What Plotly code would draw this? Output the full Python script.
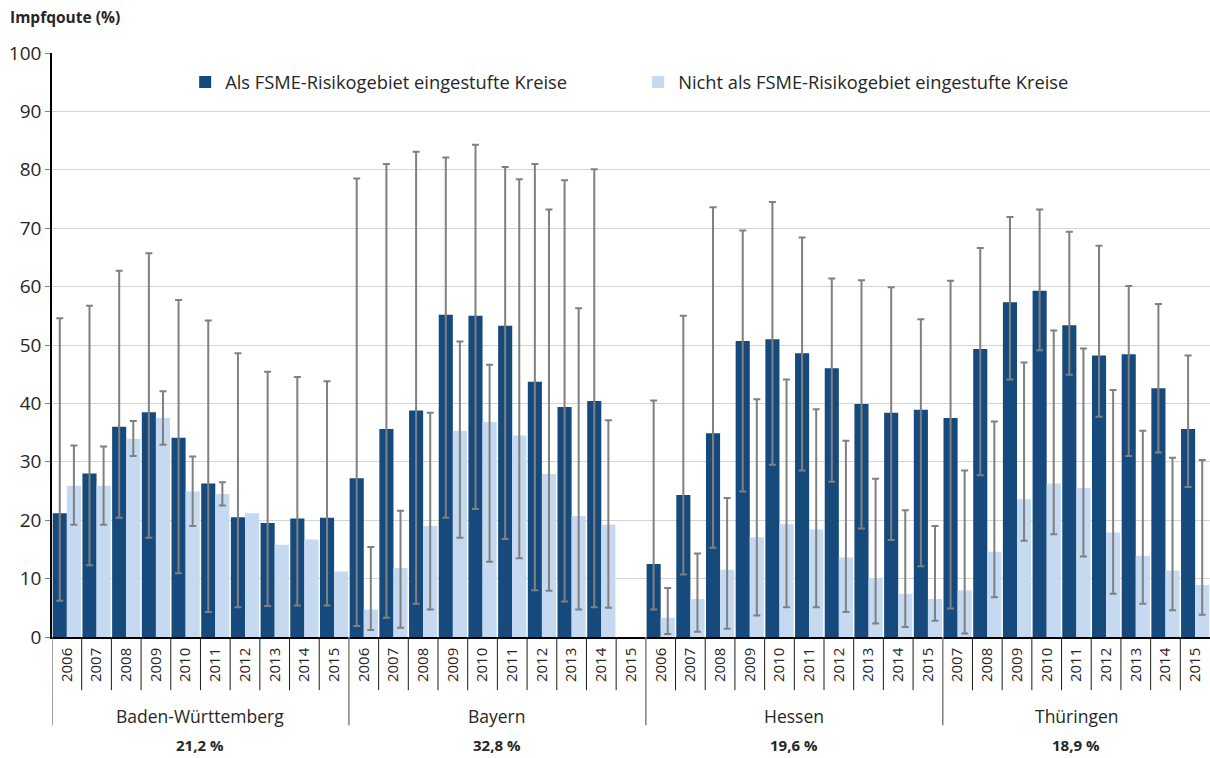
import numpy as np
import plotly.graph_objects as go

# ---------------- data ----------------
states = ["Baden-Württemberg", "Bayern", "Hessen", "Thüringen"]
state_rates = ["21,2 %", "32,8 %", "19,6 %", "18,9 %"]
state_years = [
    ["2006", "2007", "2008", "2009", "2010", "2011", "2012", "2013", "2014", "2015"],
    ["2006", "2007", "2008", "2009", "2010", "2011", "2012", "2013", "2014", "2015"],
    ["2006", "2007", "2008", "2009", "2010", "2011", "2012", "2013", "2014", "2015"],
    ["2007", "2008", "2009", "2010", "2011", "2012", "2013", "2014", "2015"],
]

# Als FSME-Risikogebiet eingestufte Kreise (value, lower and upper bound)
risk_value = [21.2, 28.0, 36.0, 38.5, 34.1, 26.3, 20.5, 19.5, 20.3, 20.4,
              27.2, 35.6, 38.8, 55.2, 55.0, 53.3, 43.7, 39.4, 40.4, None,
              12.5, 24.3, 34.9, 50.7, 51.0, 48.6, 46.0, 39.9, 38.4, 38.9,
              37.5, 49.3, 57.3, 59.3, 53.4, 48.2, 48.4, 42.6, 35.6]
risk_lower = [6.2, 12.3, 20.4, 17.0, 10.9, 4.3, 5.1, 5.3, 5.4, 5.4,
              1.9, 3.3, 5.7, 20.4, 21.9, 16.8, 8.0, 6.1, 5.1, None,
              4.7, 10.7, 15.3, 24.9, 29.5, 28.5, 26.6, 18.6, 16.6, 12.1,
              4.9, 27.7, 44.1, 49.1, 44.9, 37.7, 31.0, 31.6, 25.7]
risk_upper = [54.6, 56.7, 62.7, 65.7, 57.7, 54.2, 48.6, 45.4, 44.5, 43.8,
              78.5, 81.0, 83.1, 82.1, 84.3, 80.5, 81.0, 78.2, 80.1, None,
              40.5, 55.0, 73.6, 69.6, 74.5, 68.4, 61.4, 61.1, 59.9, 54.4,
              61.0, 66.6, 71.9, 73.2, 69.4, 67.0, 60.1, 57.0, 48.2]

# Nicht als FSME-Risikogebiet eingestufte Kreise
non_value = [25.9, 25.9, 33.9, 37.5, 24.9, 24.5, 21.2, 15.8, 16.7, 11.2,
             4.7, 11.8, 19.0, 35.3, 36.8, 34.5, 27.9, 20.7, 19.2, None,
             3.3, 6.5, 11.5, 17.1, 19.3, 18.4, 13.6, 9.9, 7.4, 6.5,
             8.0, 14.6, 23.6, 26.3, 25.5, 17.9, 13.9, 11.4, 8.9]
non_lower = [19.2, 19.2, 31.0, 32.9, 19.0, 22.5, None, None, None, None,
             1.2, 1.6, 4.7, 17.0, 12.9, 13.5, 7.9, 4.7, 5.0, None,
             0.5, 0.9, 1.4, 3.7, 5.1, 5.1, 4.3, 2.3, 1.7, 2.8,
             0.6, 6.8, 16.5, 17.6, 13.8, 7.4, 5.7, 4.6, 3.8]
non_upper = [32.8, 32.6, 37.0, 42.1, 30.9, 26.5, None, None, None, None,
             15.4, 21.6, 38.4, 50.6, 46.6, 78.4, 73.2, 56.3, 37.1, None,
             8.4, 14.3, 23.8, 40.7, 44.1, 39.0, 33.6, 27.1, 21.7, 19.0,
             28.5, 36.9, 47.0, 52.5, 49.4, 42.3, 35.3, 30.7, 30.3]

legend_names = ["Als FSME-Risikogebiet eingestufte Kreise",
                "Nicht als FSME-Risikogebiet eingestufte Kreise"]

# ---------------- helpers ----------------
year_labels = [y for ys in state_years for y in ys]
x_idx = list(range(len(year_labels)))
group_start = []
pos = 0
for ys in state_years:
    group_start.append(pos)
    pos += len(ys)


def nanarr(a):
    return np.array([np.nan if v is None else v for v in a], dtype=float)


def err_plus(vals, upper):
    return nanarr(upper) - nanarr(vals)


def err_minus(vals, lower):
    return nanarr(vals) - nanarr(lower)


DARK = "#164a7d"
LIGHT = "#c5d9f0"
ERR = "#808080"
FONT = "Open Sans"
TXT = "#262626"

fig = go.Figure()
fig.add_trace(go.Bar(
    x=x_idx, y=nanarr(risk_value), name=legend_names[0],
    marker=dict(color=DARK, line=dict(width=0)),
    error_y=dict(type="data", symmetric=False,
                 array=err_plus(risk_value, risk_upper),
                 arrayminus=err_minus(risk_value, risk_lower),
                 color=ERR, thickness=2, width=3.5),
))
fig.add_trace(go.Bar(
    x=x_idx, y=nanarr(non_value), name=legend_names[1],
    marker=dict(color=LIGHT, line=dict(width=0)),
    error_y=dict(type="data", symmetric=False,
                 array=err_plus(non_value, non_upper),
                 arrayminus=err_minus(non_value, non_lower),
                 color=ERR, thickness=2, width=3.5),
))

# ---------------- separators & labels below the axis ----------------
shapes = []
group_set = set(group_start)
for i in range(1, len(x_idx)):
    if i not in group_set:
        shapes.append(dict(type="line", xref="x", yref="paper",
                           x0=i - 0.5, x1=i - 0.5, y0=0, y1=-0.091,
                           line=dict(color="#1a1a1a", width=1)))
for g in group_start:
    shapes.append(dict(type="line", xref="x", yref="paper",
                       x0=g - 0.5, x1=g - 0.5, y0=0, y1=-0.151,
                       line=dict(color=ERR, width=1.5)))

annotations = []
for k, st in enumerate(states):
    center = group_start[k] + (len(state_years[k]) - 1) / 2
    annotations.append(dict(x=center, y=-0.135, xref="x", yref="paper",
                            text=st, showarrow=False,
                            font=dict(family=FONT, size=17.5, color=TXT),
                            xanchor="center", yanchor="middle"))
    annotations.append(dict(x=center, y=-0.185, xref="x", yref="paper",
                            text="<b>" + state_rates[k] + "</b>", showarrow=False,
                            font=dict(family=FONT, size=15, color=TXT),
                            xanchor="center", yanchor="middle"))
annotations.append(dict(x=-0.038, y=1.062, xref="paper", yref="paper",
                        text="<b>Impfqoute (%)</b>", showarrow=False,
                        font=dict(family=FONT, size=15.5, color=TXT),
                        xanchor="left", yanchor="middle"))

fig.update_layout(
    width=1210, height=758,
    margin=dict(l=52, r=0, t=53, b=121),
    paper_bgcolor="white", plot_bgcolor="white",
    barmode="group", bargap=0.05, bargroupgap=0.0,
    font=dict(family=FONT, size=16, color=TXT),
    showlegend=True,
    legend=dict(orientation="h", x=0.115, y=0.95, xanchor="left", yanchor="middle",
                font=dict(family=FONT, size=18.3, color=TXT),
                bgcolor="rgba(0,0,0,0)", itemwidth=30, entrywidth=408,
                traceorder="normal"),
    shapes=shapes, annotations=annotations,
)
fig.update_xaxes(
    range=[-0.5, len(x_idx) - 0.5], tickmode="array",
    tickvals=x_idx, ticktext=year_labels, tickangle=-90,
    tickfont=dict(family=FONT, size=15, color=TXT),
    ticks="", ticklabelstandoff=3,
    showline=True, linecolor="black", linewidth=1.5,
    showgrid=False, zeroline=False,
)
fig.update_yaxes(
    range=[0, 100], tick0=0, dtick=10,
    tickfont=dict(family=FONT, size=19, color=TXT),
    ticks="outside", ticklen=5, tickcolor=ERR,
    showline=True, linecolor="black", linewidth=1.5,
    showgrid=True, gridcolor="#d4d4d4", gridwidth=1.2,
    zeroline=False,
)

fig.write_html("out.html",
               config={"displayModeBar": False},
               post_script="document.body.style.margin='0';document.body.style.overflow='hidden';")
